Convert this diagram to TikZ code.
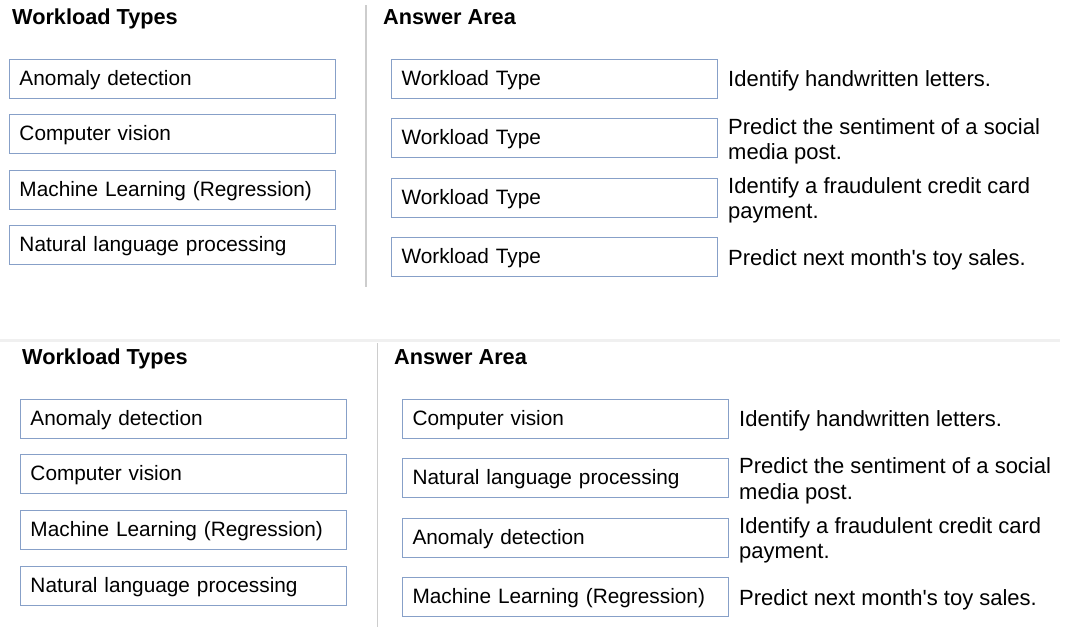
\documentclass[tikz,border=0pt]{standalone}
\usepackage{fontspec}
\setmainfont{Liberation Sans}[Ligatures=TeXOff]
\usepackage{xcolor}
\usetikzlibrary{positioning}
\definecolor{boxline}{RGB}{135,160,200}
\definecolor{rulegray}{RGB}{205,205,205}
\definecolor{bandgray}{RGB}{240,240,240}

\begin{document}
\begin{tikzpicture}[x=1pt,y=-1pt,
		head/.style={anchor=base west,inner sep=0pt,font=\fontsize{21.7}{26}\selectfont\bfseries},
		wbox/.style={draw=boxline,line width=1pt,anchor=west,minimum width=326pt,minimum height=39pt,
			text width=306pt,text height=18pt,text depth=5pt,inner xsep=10pt,align=left,
			font=\fontsize{20.8}{25}\selectfont},
		desc/.style={anchor=west,inner sep=0pt,align=left,font=\fontsize{22}{25.5}\selectfont}]
		\useasboundingbox (0,0) rectangle (1072,627);
		%
		% upper panel: question
		\node[head] (T1) at (12,24.5) {Workload Types};
		\node[head] (A1) at (383,24.5) {Answer Area};
		\draw[rulegray,line width=2pt] (366,5) -- (366,287);
		%
		\node[wbox] (t1a) at (9,78.5) {Anomaly detection};
		\node[wbox] (t1b) at (9,133.5) {Computer vision};
		\node[wbox] (t1c) at (9,190) {Machine Learning (Regression)};
		\node[wbox] (t1d) at (9,244.5) {Natural language processing};
		%
		\node[wbox] (a1a) at (391,78.5) {Workload Type};
		\node[wbox] (a1b) at (391,138) {Workload Type};
		\node[wbox] (a1c) at (391,197.5) {Workload Type};
		\node[wbox] (a1d) at (391,256.5) {Workload Type};
		%
		\node[desc] (d1a) at (728,81) {Identify handwritten letters.};
		\node[desc] (d1b) at (728,141.5) {Predict the sentiment of a social\\media post.};
		\node[desc] (d1c) at (728,200.5) {Identify a fraudulent credit card\\payment.};
		\node[desc] (d1d) at (728,260) {Predict next month's toy sales.};
		%
		% lower panel: answer
		\draw[bandgray,line width=3pt] (0,340) -- (1060,340);
		\node[head] (T2) at (22,364) {Workload Types};
		\node[head] (A2) at (394,364) {Answer Area};
		\draw[rulegray,line width=1pt] (377,343) -- (377,627);
		%
		\node[wbox] (t2a) at (20,418.5) {Anomaly detection};
		\node[wbox] (t2b) at (20,474) {Computer vision};
		\node[wbox] (t2c) at (20,530) {Machine Learning (Regression)};
		\node[wbox] (t2d) at (20,585.5) {Natural language processing};
		%
		\node[wbox] (a2a) at (402,418.5) {Computer vision};
		\node[wbox] (a2b) at (402,478) {Natural language processing};
		\node[wbox] (a2c) at (402,537.5) {Anomaly detection};
		\node[wbox] (a2d) at (402,597) {Machine Learning (Regression)};
		%
		\node[desc] (d2a) at (739,421) {Identify handwritten letters.};
		\node[desc] (d2b) at (739,481) {Predict the sentiment of a social\\media post.};
		\node[desc] (d2c) at (739,540.5) {Identify a fraudulent credit card\\payment.};
		\node[desc] (d2d) at (739,600) {Predict next month's toy sales.};
	\end{tikzpicture}
\end{document}
